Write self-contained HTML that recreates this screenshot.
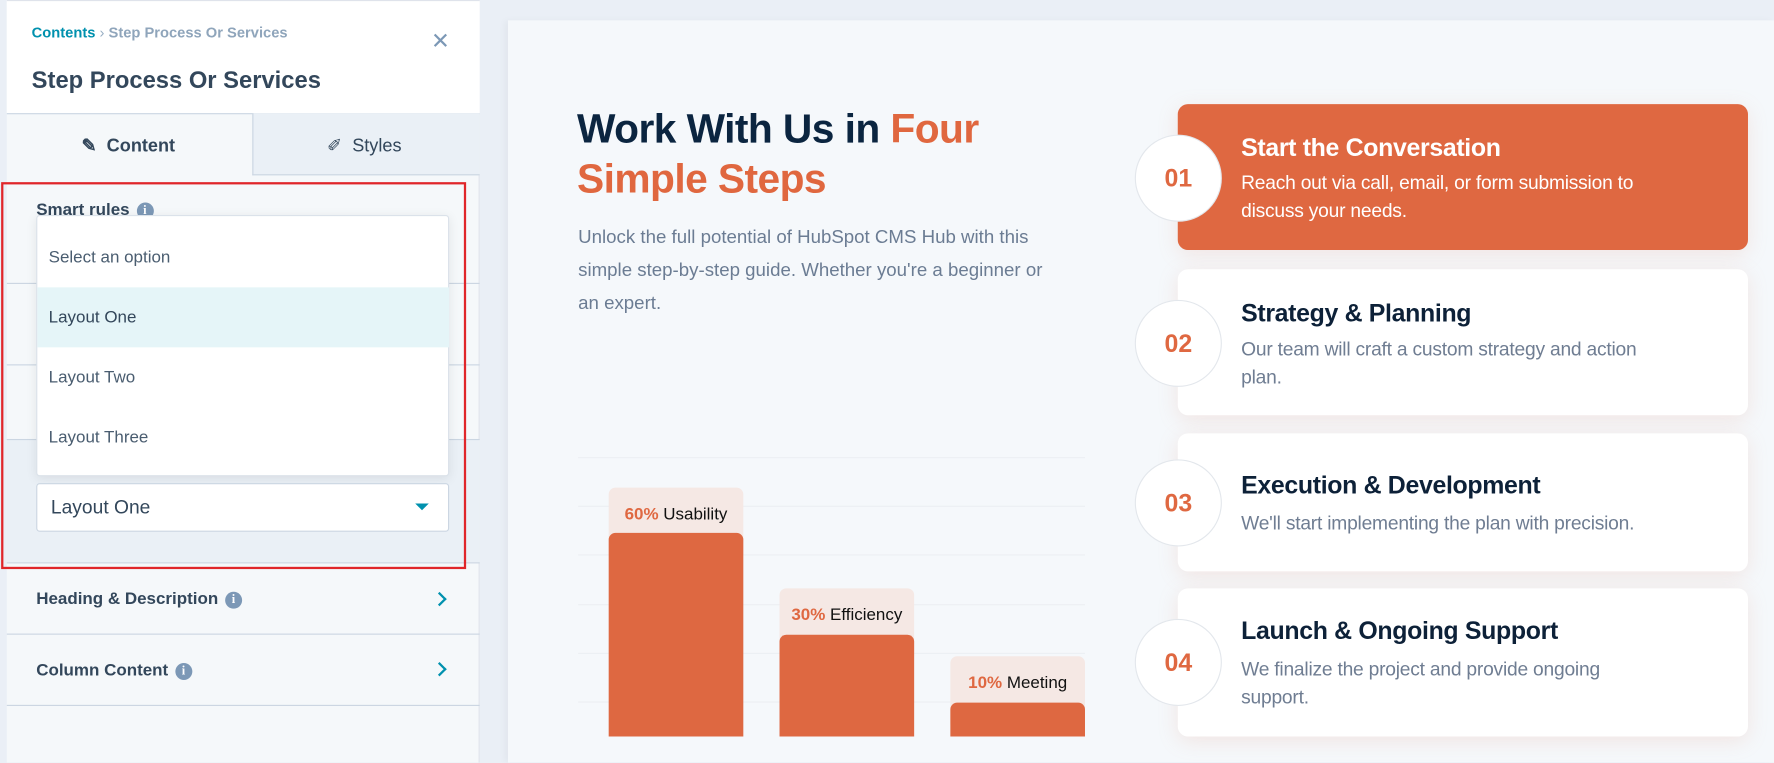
<!DOCTYPE html>
<html><head><meta charset="utf-8"><style>
*{box-sizing:border-box;margin:0;padding:0}
html,body{width:1774px;height:762px;overflow:hidden;background:#eaeff6;font-family:"Liberation Sans",sans-serif}
#w{position:absolute;left:0;top:0;width:1568px;height:674px;transform:scale(1.13138);transform-origin:0 0}
.a{position:absolute}
.sep{position:absolute;left:6px;width:418px;height:1px;background:#cbd6e2}
.opt{position:absolute;left:0;width:364px;height:53px;line-height:53px;padding-left:10px;font-size:15px;color:#4a5d70}
.row{position:absolute;left:32px;font-size:15px;font-weight:bold;color:#33475b}
.info{display:inline-block;width:15px;height:15px;border-radius:50%;background:#7c98b6;color:#fff;font-size:11px;text-align:center;line-height:15px;vertical-align:1px;margin-left:6px;font-family:"Liberation Serif",serif;font-weight:bold}
.chev{position:absolute;left:384px;width:9px;height:9px;border-right:2px solid #0091ae;border-top:2px solid #0091ae;transform:rotate(45deg)}
.grid{position:absolute;left:511px;width:448px;height:1px;background:#eceff3}
.lab{position:absolute;width:119px;background:#f5e8e4;border-radius:6px 6px 0 0;font-size:15px;text-align:center;color:#111;padding-top:15px;height:60px}
.lab b{color:#df6841;font-weight:600}
.bar{position:absolute;width:119px;background:#de6841;border-radius:6px 6px 0 0}
.card{position:absolute;left:1041px;width:504px;background:#fff;border-radius:9px;box-shadow:0 4px 18px rgba(230,150,120,.18)}
.card h3{position:absolute;left:56px;font-size:22px;font-weight:bold;color:#0d2138;letter-spacing:-.3px}
.card p{position:absolute;left:56px;width:395px;font-size:17px;line-height:24.5px;color:#6f7d92;letter-spacing:-.2px}
.circ{position:absolute;left:1003px;width:77px;height:77px;border-radius:50%;background:#fff;border:1px solid #e3e7ec;text-align:center;line-height:75px;font-size:22px;font-weight:bold;color:#df6841}
</style></head><body><div id="w">
<div class="a" style="left:6px;top:0;width:418px;height:674px;background:#f5f8fa;border-right:1px solid #dfe3eb"></div>
<div class="a" style="left:6px;top:0;width:418px;height:100px;background:#fff;border-top:1px solid #dfe3eb"></div>
<div class="a" style="left:28px;top:21px;font-size:13px;font-weight:bold;color:#0091ae">Contents <span style="color:#99afc4;font-weight:normal">›</span> <span style="color:#8fa5bb">Step Process Or Services</span></div>
<div class="a" style="left:381px;top:24px;font-size:20px;color:#7c98b6;font-weight:300">✕</div>
<div class="a" style="left:28px;top:60px;font-size:21px;font-weight:bold;color:#33475b">Step Process Or Services</div>
<div class="a" style="left:6px;top:100px;width:418px;height:1px;background:#cbd6e2"></div>
<div class="a" style="left:223px;top:100px;width:201px;height:55px;background:#eaf0f6;border-left:1px solid #cbd6e2;border-bottom:1px solid #cbd6e2"></div>
<div class="a" style="left:72px;top:119px;font-size:16px;color:#33475b;font-weight:bold">✎&nbsp; Content</div>
<div class="a" style="left:289px;top:119px;font-size:16px;color:#33475b">✐&nbsp; Styles</div>
<div class="a" style="left:6px;top:388px;width:418px;height:109px;background:#eaf0f6"></div>
<div class="sep" style="top:250px"></div><div class="sep" style="top:322px"></div><div class="sep" style="top:388px"></div>
<div class="sep" style="top:497px"></div><div class="sep" style="top:560px"></div><div class="sep" style="top:623px"></div>
<div class="row" style="top:177px">Smart rules<span class="info">i</span></div>
<div class="a" style="left:32px;top:190px;width:365px;height:231px;background:#fff;border:1px solid #dbe2ea;border-radius:3px;box-shadow:0 2px 10px rgba(0,0,0,.08)">
<div class="opt" style="top:10px">Select an option</div>
<div class="opt" style="top:63px;background:#e5f5f8;color:#33475b">Layout One</div>
<div class="opt" style="top:116px">Layout Two</div>
<div class="opt" style="top:169px">Layout Three</div></div>
<div class="a" style="left:32px;top:427px;width:365px;height:43px;background:#fff;border:1px solid #cbd6e2;border-radius:3px;font-size:17px;color:#33475b;line-height:41px;padding-left:12px">Layout One
<div class="a" style="left:334px;top:17px;width:0;height:0;border-left:6px solid transparent;border-right:6px solid transparent;border-top:6px solid #0091ae"></div></div>
<div class="a" style="left:1px;top:161px;width:411px;height:342px;border:2px solid #e0262a"></div>
<div class="row" style="top:521px">Heading &amp; Description<span class="info">i</span></div>
<div class="chev" style="top:525px"></div>
<div class="row" style="top:584px">Column Content<span class="info">i</span></div>
<div class="chev" style="top:587px"></div>
<div class="a" style="left:449px;top:18px;width:1119px;height:656px;background:#f5f8fb;box-shadow:-3px 0 6px rgba(0,0,0,.04)"></div>
<div class="a" style="left:510px;top:92px;font-size:36px;font-weight:bold;color:#0b2540;line-height:44px;letter-spacing:-.5px">Work With Us in <span style="color:#e0673f">Four</span><br><span style="color:#e0673f">Simple Steps</span></div>
<div class="a" style="left:511px;top:196px;width:425px;font-size:16.5px;line-height:29px;color:#6b7c93">Unlock the full potential of HubSpot CMS Hub with this simple step-by-step guide. Whether you're a beginner or an expert.</div>
<div class="grid" style="top:404px"></div><div class="grid" style="top:447px"></div><div class="grid" style="top:490px"></div><div class="grid" style="top:534px"></div><div class="grid" style="top:577px"></div><div class="grid" style="top:620px"></div>
<div class="lab" style="left:538px;top:431px"><b>60%</b> Usability</div><div class="bar" style="left:538px;top:471px;height:180px"></div>
<div class="lab" style="left:689px;top:520px"><b>30%</b> Efficiency</div><div class="bar" style="left:689px;top:561px;height:90px"></div>
<div class="lab" style="left:840px;top:580px"><b>10%</b> Meeting</div><div class="bar" style="left:840px;top:621px;height:30px"></div>
<div class="card" style="top:92px;height:129px;background:#df6841"><h3 style="top:26px;color:#fff">Start the Conversation</h3><p style="top:58px;color:#fff">Reach out via call, email, or form submission to discuss your needs.</p></div>
<div class="card" style="top:238px;height:129px"><h3 style="top:26px">Strategy &amp; Planning</h3><p style="top:59px;width:370px">Our team will craft a custom strategy and action plan.</p></div>
<div class="card" style="top:383px;height:122px"><h3 style="top:33px">Execution &amp; Development</h3><p style="top:68px;width:440px">We'll start implementing the plan with precision.</p></div>
<div class="card" style="top:520px;height:131px"><h3 style="top:25px">Launch &amp; Ongoing Support</h3><p style="top:60px;width:370px">We finalize the project and provide ongoing support.</p></div>
<div class="circ" style="top:119px">01</div>
<div class="circ" style="top:265px">02</div>
<div class="circ" style="top:406px">03</div>
<div class="circ" style="top:547px">04</div>
</div></body></html>
